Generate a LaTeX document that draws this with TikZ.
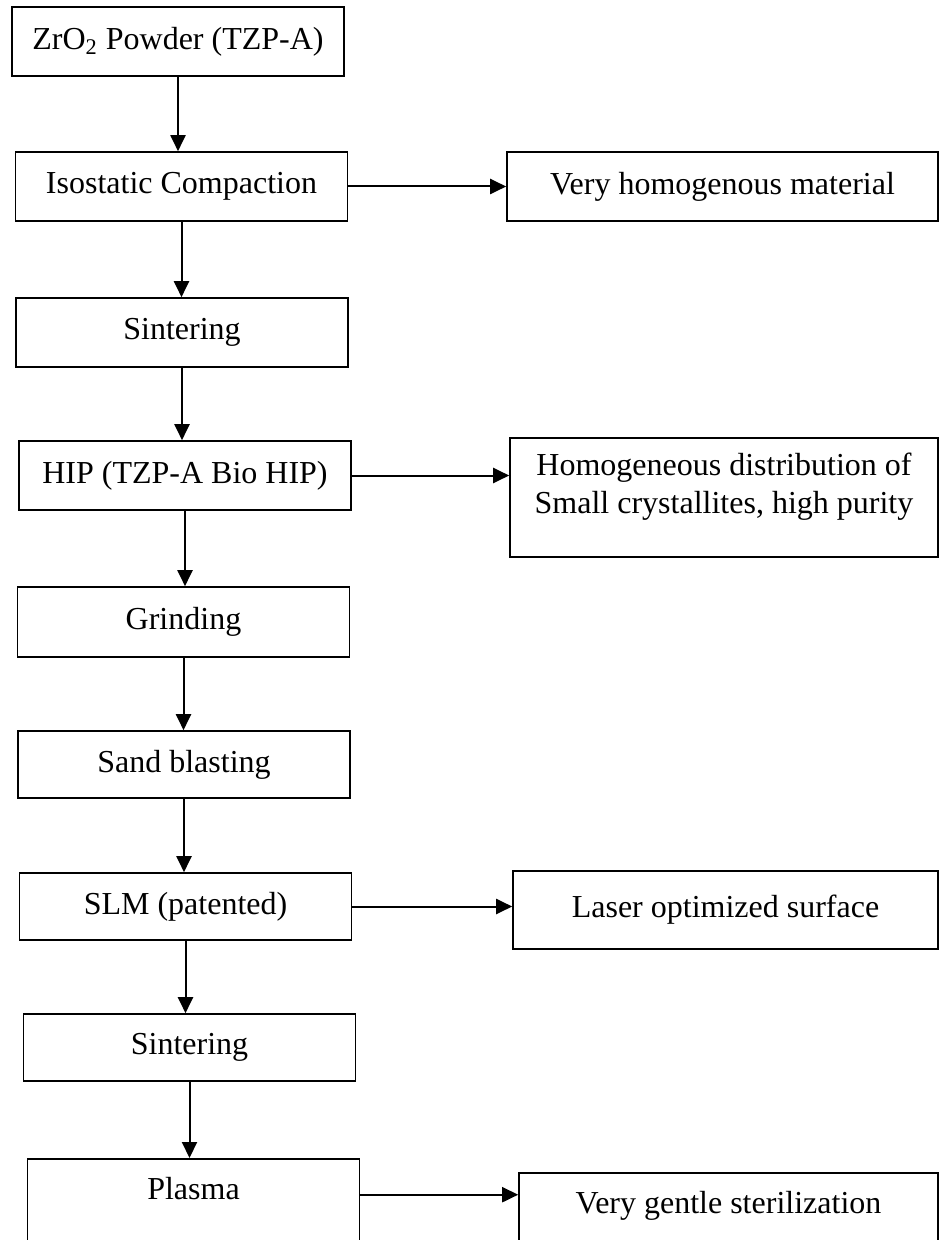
\documentclass[tikz,border=0pt]{standalone}
\usepackage{fontspec}
\setmainfont{Liberation Serif}
\usetikzlibrary{arrows.meta}

\tikzset{
  stage/.style={draw, line width=0.8pt, minimum width=166pt, minimum height=34.5pt,
    inner sep=0pt, font=\fontsize{16}{19}\selectfont},
  result/.style={stage, minimum width=214pt},
  flow/.style={->, line width=1pt},
}

\begin{document}
\begin{tikzpicture}[x=0.5pt, y=-0.5pt, >={Triangle[length=8pt, width=7.5pt]}]
  % Define picture window (pixels of the original figure)
  \def\xmax{940} \def\ymax{1240}
  \useasboundingbox (0,0) rectangle (\xmax,\ymax);
  \clip (0,0) rectangle (\xmax,\ymax);

  % Process chain (left column)
  \node[stage] (powder) at (178,41.5) {ZrO\textsubscript{2} Powder (TZP-A)};
  \node[stage] (compact) at (181.5,186.5) {Isostatic Compaction};
  \node[stage] (sinter) at (182,332.5) {Sintering};
  \node[stage] (hip) at (185,475.5) {HIP (TZP-A Bio HIP)};
  \node[stage, minimum height=35pt] (grind) at (183.5,622) {Grinding};
  \node[stage, minimum height=33.5pt] (sand) at (184,764.5) {Sand blasting};
  \node[stage, minimum height=33.5pt] (slm) at (185.5,906.5) {SLM (patented)};
  \node[stage, minimum height=33.5pt] (resinter) at (189.5,1047.5) {Sintering};
  % last box runs off the page
  \node[stage, anchor=north, minimum height=0pt, text height=20.25pt, text depth=40pt]
    (plasma) at (193.5,1158) {Plasma};

  % Results (right column)
  \node[result, minimum width=215.5pt] (homog) at (722.5,186.5) {Very homogenous material};
  \node[result, anchor=north, minimum height=0pt, align=center,
    text height=38pt, text depth=21.5pt] (crystal) at (724,437)
    {Homogeneous distribution of\\Small crystallites, high purity};
  \node[result, minimum width=212.5pt, minimum height=39pt] (laser) at (725.5,910) {Laser optimized surface};
  \node[result, anchor=north, minimum width=209.5pt, minimum height=0pt,
    text height=20.5pt, text depth=40pt] (steril) at (728.5,1172) {Very gentle sterilization};

  % Down the chain
  \foreach \a/\b in {powder/compact, compact/sinter, sinter/hip, hip/grind,
                     grind/sand, sand/slm, slm/resinter, resinter/plasma}
    \draw[flow] (\a.south) -- (\a.south |- \b.north);

  % Side effects
  \draw[flow] (compact.east) -- (compact.east -| homog.west);
  \draw[flow] (hip.east) -- (hip.east -| crystal.west);
  \draw[flow] (slm.east) -- (slm.east -| laser.west);
  \draw[flow] (plasma.mid east) -- (plasma.mid east -| steril.west);
\end{tikzpicture}
\end{document}
